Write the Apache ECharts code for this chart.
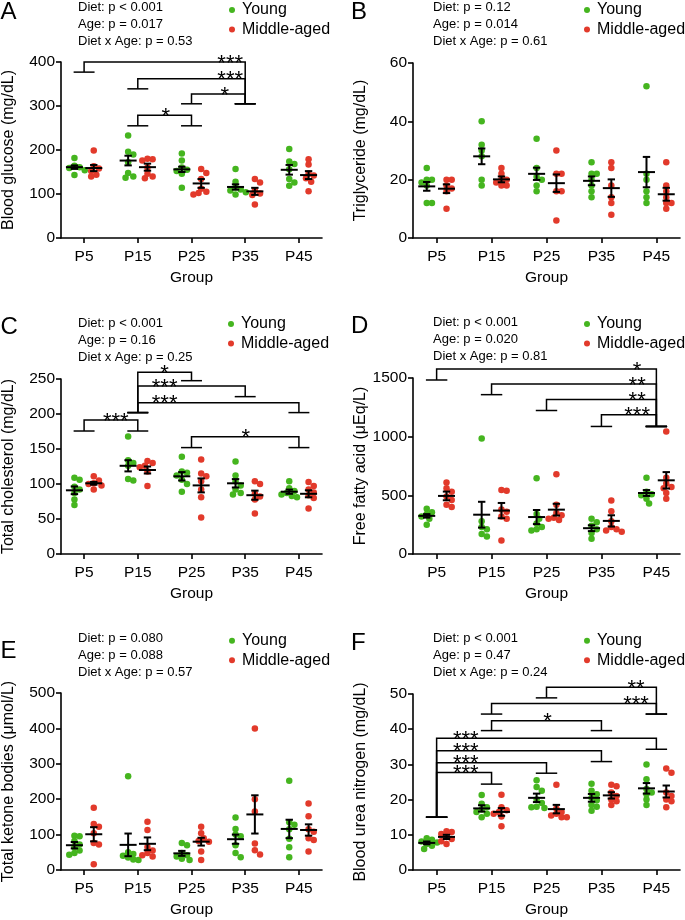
<!DOCTYPE html>
<html><head><meta charset="utf-8">
<script src="https://cdn.jsdelivr.net/npm/echarts@6/dist/echarts.min.js"></script>
<style>html,body{margin:0;padding:0;background:#fff}#c{width:685px;height:920px}</style>
</head><body><div id="c"></div>
<script>
const groups = ['P5', 'P15', 'P25', 'P35', 'P45'];
const seriesNames = ['Young', 'Middle-aged'];

// A: Blood glucose
const glucoseYoung = [[182,164,161,159,154,143],[233,196,190,172,148,140,137],[192,176,160,155,152,146,114],[157,128,115,110,108,104,99],[202,174,168,156,134,126,119]];
const glucoseMid = [[199,163,158,152,144,140],[180,179,176,160,146,140,136],[157,148,134,112,105,102,99],[134,126,108,101,98,76],[179,167,146,142,136,128,106]];
const glucoseYoungMean = [161,176,156,116,155];
const glucoseYoungSem = [4,11,6,6,11];
const glucoseMidMean = [159,161,124,106,143];
const glucoseMidSem = [7,8,10,8,9];
const glucoseStats = ['Diet: p < 0.001','Age: p = 0.017','Diet x Age: p = 0.53'];
// [fromGroup, toGroup, barValue, leftEndValue, rightEndValue, stars, starsAt]
const glucoseBrackets = [[0,3,400,377,305,'***',2.72],[1,3,362,339,305,'***',2.72],[2,3,327,305,305,'*',2.62],[1,2,279,255,255,'*',1.52]];

// B: Triglyceride
const tgYoung = [[24,20,20,19,18,12,12],[40,32,30,28,20,18],[34,24,21,20,18,16],[26,22,22,20,18,16,14],[52,22,20,16,14,12]];
const tgMid = [[20,20,18,17,16,10],[24,22,20,20,19,18,18],[30,22,22,16,16,6],[26,24,18,14,12,8],[26,18,16,14,12,12,10]];
const tgYoungMean = [17.7,28,22,19.6,22.6];
const tgYoungSem = [1.5,2.7,2.1,1.5,5.2];
const tgMidMean = [16.9,20.1,18.8,17.1,15];
const tgMidSem = [1.5,1,3,3,2.2];
const tgStats = ['Diet: p = 0.12','Age: p = 0.014','Diet x Age: p = 0.61'];
const tgBrackets = [];

// C: Total cholesterol
const tcYoung = [[109,106,96,92,87,78,70],[168,134,130,126,107,105],[139,118,116,112,106,100,89],[132,112,104,98,92,87,85],[104,94,90,87,85,83,81]];
const tcMid = [[111,105,101,100,98,92],[133,130,126,124,118,97],[135,115,111,104,92,81,52],[104,100,86,82,78,58],[103,97,92,88,84,80,65]];
const tcYoungMean = [91,126,111,101,89];
const tcYoungSem = [5.5,8,6,6,3];
const tcMidMean = [101,120,98,84,86];
const tcMidSem = [2,5,10,6.5,5];
const tcStats = ['Diet: p < 0.001','Age: p = 0.16','Diet x Age: p = 0.25'];
const tcBrackets = [[1,2,259.5,202,247.6,'*',1.5],[1,3,240,202,224.8,'***',1.5],[1,4,216,202,202,'***',1.5],[0,1,191.4,175.7,175.7,'***',0.59],[2,4,167.6,152,152,'*',3.01]];

// D: Free fatty acid
const ffaYoung = [[385,355,340,320,300,250],[985,280,230,210,170,150],[645,340,300,260,230,210,200],[300,270,240,210,180,130],[650,530,510,500,470,430]];
const ffaMid = [[610,560,530,490,460,420,400],[545,540,380,360,320,300,115],[680,420,350,330,310,300,290],[455,365,280,230,210,200,190],[1045,650,600,570,560,520,470]];
const ffaYoungMean = [325,335,315,220,520];
const ffaYoungSem = [15,110,60,25,25];
const ffaMidMean = [495,370,378,282,628];
const ffaMidSem = [37,65,50,48,70];
const ffaStats = ['Diet: p < 0.001','Age: p = 0.020','Diet x Age: p = 0.81'];
const ffaBrackets = [[0,4,1576,1483,1087,'*',3.65],[1,4,1449,1358,1087,'**',3.65],[2,4,1316,1223,1087,'**',3.65],[3,4,1186,1087,1087,'***',3.65]];

// E: Total ketone bodies
const tkbYoung = [[97,95,82,72,64,55,48,43],[265,50,45,40,35,30,28],[76,70,48,42,38,32,28],[148,116,100,95,70,48,36],[252,135,128,115,88,64,36]];
const tkbMid = [[176,130,122,104,76,72,16],[136,113,65,55,48,42,38],[122,104,90,82,80,52,28],[400,200,165,75,56,44],[188,152,115,108,90,85,52]];
const tkbYoungMean = [70,71,47,87,116];
const tkbYoungSem = [9,32,7,13,26];
const tkbMidMean = [101,74,80,157,113];
const tkbMidSem = [20,18,11,54,16];
const tkbStats = ['Diet: p = 0.080','Age: p = 0.088','Diet x Age: p = 0.57'];
const tkbBrackets = [];

// F: Blood urea nitrogen
const bunYoung = [[9.0,8.6,8.1,7.8,7.4,6.9,6.0],[21.3,18.8,17.8,17.2,16.5,16,15],[25.5,23.6,22.5,20,19,18,17.8,17.6],[24.5,22.5,21.5,20.5,19.8,18.5,18,16.8],[30,25.8,23,22,21.5,20,18.5]];
const bunMid = [[11,10.8,10.2,9.4,8.8,8.2,7.4],[21.4,17.8,17,16.5,16,15.2,12.4],[24.2,17.5,16.5,16,15.5,15,15],[24.2,23.8,22,21,20,19.5,18.5],[28.8,27.6,22,21,20,19.5,17.8]];
const bunYoungMean = [7.7,17.5,20.5,20.5,23.2];
const bunYoungSem = [0.4,0.9,1.2,1.1,1.5];
const bunMidMean = [9.4,16.5,17.3,21.2,22.3];
const bunMidSem = [0.6,1.1,1.2,0.9,1.7];
const bunStats = ['Diet: p < 0.001','Age: p = 0.47','Diet x Age: p = 0.24'];
const bunBrackets = [[2,4,51.9,48.9,44.3,'**',3.63],[1,4,47.3,44.3,44.3,'***',3.63],[1,3,42.4,39.6,39.6,'*',2.02],[0,4,37.4,15,34.3,'***',0.53],[0,3,33.9,15,30.8,'***',0.53],[0,2,30.5,15,27.5,'***',0.53],[0,1,27.7,15,24.4,'***',0.53]];

const yTitles = ['Blood glucose (mg/dL)','Triglyceride (mg/dL)','Total cholesterol (mg/dL)','Free fatty acid (μEq/L)','Total ketone bodies (μmol/L)','Blood urea nitrogen (mg/dL)'];
const yMaxes = [400, 60, 250, 1500, 500, 50];
const yIntervals = [100, 20, 50, 500, 100, 10];
const letters = ['A','B','C','D','E','F'];

const panelData = [
  [glucoseYoung, glucoseMid, glucoseYoungMean, glucoseYoungSem, glucoseMidMean, glucoseMidSem, glucoseStats, glucoseBrackets],
  [tgYoung, tgMid, tgYoungMean, tgYoungSem, tgMidMean, tgMidSem, tgStats, tgBrackets],
  [tcYoung, tcMid, tcYoungMean, tcYoungSem, tcMidMean, tcMidSem, tcStats, tcBrackets],
  [ffaYoung, ffaMid, ffaYoungMean, ffaYoungSem, ffaMidMean, ffaMidSem, ffaStats, ffaBrackets],
  [tkbYoung, tkbMid, tkbYoungMean, tkbYoungSem, tkbMidMean, tkbMidSem, tkbStats, tkbBrackets],
  [bunYoung, bunMid, bunYoungMean, bunYoungSem, bunMidMean, bunMidSem, bunStats, bunBrackets]
];

// ---- layout / style ----
const FONT = '"Liberation Sans", Arial, sans-serif';
const GREEN = '#45b51f', RED = '#e23a2b';
const layout = [
  {grid:[59,62,263,176],  letter:[0.5,12],   stats:[78,7],     legend:[232,10]},
  {grid:[413,63,267,175], letter:[351,12],   stats:[433,7],    legend:[587,10]},
  {grid:[59,379,263,175], letter:[0.5,327.5],stats:[78,323.3], legend:[231,324]},
  {grid:[413,378,267,176],letter:[351,326.3],stats:[433,322.7],legend:[587,324]},
  {grid:[59,693,263,177], letter:[0.5,651],  stats:[78,638.3], legend:[232,640.7]},
  {grid:[413,694,267,176],letter:[351,643.8],stats:[433,638],   legend:[587,640.7]}
];
const XMIN = -0.43, XMAX = 4.43, OFF = 0.18;

function swarm(values, center, xppu, yppu) {
  const d = 5.0, step = 2.6;
  const placed = [];
  const out = [];
  const order = values.map((v, i) => i).sort((a, b) => values[b] - values[a]);
  order.forEach(idx => {
    const py = values[idx] * yppu;
    let off = 0;
    for (let k = 0; k < 20; k++) {
      const cand = k === 0 ? 0 : (k % 2 ? 1 : -1) * Math.ceil(k / 2) * step;
      if (placed.every(p => Math.hypot(p[0] - cand, p[1] - py) >= d)) { off = cand; break; }
    }
    placed.push([off, py]);
    out.push([center + off / xppu, values[idx]]);
  });
  return out;
}

const lineSt = {stroke: '#000', lineWidth: 2, fill: null};
function renderMean(params, api) {
  const x = api.value(0), m = api.value(1), s = api.value(2);
  const c = api.coord([x, m]), t = api.coord([x, m + s]), b = api.coord([x, m - s]);
  return {type: 'group', children: [
    {type: 'line', shape: {x1: c[0] - 8.5, y1: c[1], x2: c[0] + 8.5, y2: c[1]}, style: lineSt},
    {type: 'line', shape: {x1: c[0], y1: t[1], x2: c[0], y2: b[1]}, style: lineSt},
    {type: 'line', shape: {x1: c[0] - 3.7, y1: t[1], x2: c[0] + 3.7, y2: t[1]}, style: lineSt},
    {type: 'line', shape: {x1: c[0] - 3.7, y1: b[1], x2: c[0] + 3.7, y2: b[1]}, style: lineSt}
  ]};
}
function makeBracketRenderer(brackets) {
  return function (params, api) {
    const br = brackets[params.dataIndex];
    const a0 = api.coord([br[0], br[3]]), a1 = api.coord([br[0], br[2]]);
    const b1 = api.coord([br[1], br[2]]), b0 = api.coord([br[1], br[4]]);
    const capW = api.size([0.195, 0])[0];
    const lbl = api.coord([br[6], br[2]]);
    const st = {stroke: '#000', lineWidth: 1.5, fill: null};
    return {type: 'group', children: [
      {type: 'polyline', shape: {points: [a0, a1, b1, b0]}, style: st},
      {type: 'line', shape: {x1: a0[0] - capW, y1: a0[1], x2: a0[0] + capW, y2: a0[1]}, style: st},
      {type: 'line', shape: {x1: b0[0] - capW, y1: b0[1], x2: b0[0] + capW, y2: b0[1]}, style: st},
      {type: 'text', x: lbl[0], y: lbl[1] + 1.5, style: {text: br[5], fontSize: 22, fontFamily: FONT, fill: '#000',
        align: 'center', textAlign: 'center', verticalAlign: 'middle', textVerticalAlign: 'middle'}}
    ]};
  };
}

const option = {animation: false, backgroundColor: '#fff', textStyle: {fontFamily: FONT},
  grid: [], xAxis: [], yAxis: [], series: [], legend: [], graphic: {elements: []}};

layout.forEach((L, i) => {
  const [left, top, width, height] = L.grid;
  const [young, mid, ym, ys, mm, ms, stats, brackets] = panelData[i];
  option.grid.push({left, top, width, height});
  option.xAxis.push({gridIndex: i, type: 'value', min: XMIN, max: XMAX,
    name: 'Group', nameLocation: 'middle', nameGap: 32,
    nameTextStyle: {fontSize: 15.5, color: '#000', fontFamily: FONT},
    axisLine: {show: true, lineStyle: {color: '#000', width: 1.6}},
    axisTick: {show: true, length: 5, lineStyle: {color: '#000', width: 1.6}, customValues: [0,1,2,3,4]},
    axisLabel: {customValues: [0,1,2,3,4], formatter: v => groups[Math.round(v)], fontSize: 15.5, color: '#000', margin: 11, fontFamily: FONT},
    splitLine: {show: false}});
  option.yAxis.push({gridIndex: i, type: 'value', min: 0, max: yMaxes[i], interval: yIntervals[i],
    name: yTitles[i], nameLocation: 'middle', nameGap: 44,
    nameTextStyle: {fontSize: 16, color: '#000', fontFamily: FONT},
    axisLine: {show: true, onZero: false, lineStyle: {color: '#000', width: 1.6}},
    axisTick: {show: true, length: 5, lineStyle: {color: '#000', width: 1.6}},
    axisLabel: {fontSize: 15.5, color: '#000', margin: 6, fontFamily: FONT, formatter: v => String(v)},
    splitLine: {show: false}});
  const xppu = width / (XMAX - XMIN), yppu = height / yMaxes[i];
  const yPts = [], mPts = [];
  young.forEach((vals, g) => yPts.push(...swarm(vals, g - OFF, xppu, yppu)));
  mid.forEach((vals, g) => mPts.push(...swarm(vals, g + OFF, xppu, yppu)));
  option.series.push({name: 'Young', type: 'scatter', xAxisIndex: i, yAxisIndex: i, data: yPts,
    symbolSize: 6.5, itemStyle: {color: GREEN, opacity: 1}, z: 2});
  option.series.push({name: 'Middle-aged', type: 'scatter', xAxisIndex: i, yAxisIndex: i, data: mPts,
    symbolSize: 6.5, itemStyle: {color: RED, opacity: 1}, z: 2});
  const meanData = [];
  groups.forEach((g, k) => { meanData.push([k - OFF, ym[k], ys[k]]); meanData.push([k + OFF, mm[k], ms[k]]); });
  option.series.push({type: 'custom', xAxisIndex: i, yAxisIndex: i, data: meanData, renderItem: renderMean,
    encode: {x: 0, y: 1}, z: 5, silent: true});
  if (brackets.length) {
    option.series.push({type: 'custom', xAxisIndex: i, yAxisIndex: i, clip: false,
      data: brackets.map(b => [b[0], b[2]]), renderItem: makeBracketRenderer(brackets),
      encode: {x: 0, y: 1}, z: 4, silent: true});
  }
  option.legend.push({data: seriesNames, orient: 'vertical', left: L.legend[0] - 3, top: L.legend[1] - 8,
    itemWidth: 6, itemHeight: 6, itemGap: 3.5, icon: 'circle', selectedMode: false, padding: 0,
    textStyle: {fontSize: 16, lineHeight: 16, color: '#000', fontFamily: FONT, padding: [0, 0, 0, 2]}});
  option.graphic.elements.push({type: 'text', x: L.letter[0], y: L.letter[1],
    style: {text: letters[i], fontSize: 24, fontFamily: FONT, fill: '#000', verticalAlign: 'middle', textVerticalAlign: 'middle'}});
  stats.forEach((s, k) => option.graphic.elements.push({type: 'text', x: L.stats[0], y: L.stats[1] + 17 * k,
    style: {text: s, fontSize: 13, fontFamily: FONT, fill: '#000', verticalAlign: 'middle', textVerticalAlign: 'middle'}}));
});

const chart = echarts.init(document.getElementById('c'), null, {renderer: 'canvas'});
chart.setOption(option);
</script></body></html>
